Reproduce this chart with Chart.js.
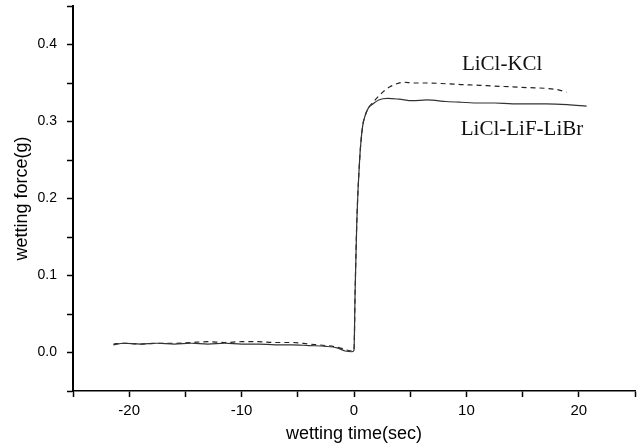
<!DOCTYPE html>
<html lang="en">
  <head>
    <meta charset="UTF-8" />
    <title>Wetting force vs wetting time</title>
    <script src="https://cdn.jsdelivr.net/npm/chart.js@4.4.1/dist/chart.umd.min.js"></script>
    <style>
      html, body { margin: 0; padding: 0; background: #fff; }
      #wrap { width: 637px; height: 448px; }
    </style>
  </head>
  <body>
    <div id="wrap"><canvas id="wetChart" width="637" height="448"></canvas></div>
    <script>
      // ---- data ----
      const X_TICKS = [-25, -20, -15, -10, -5, 0, 5, 10, 15, 20, 25];
      const X_LABELS = [-20, -10, 0, 10, 20];
      const Y_TICKS = [-0.05, 0, 0.05, 0.1, 0.15, 0.2, 0.25, 0.3, 0.35, 0.4, 0.45];
      const Y_LABELS = [0, 0.1, 0.2, 0.3, 0.4];

      // LiCl-LiF-LiBr (solid)
      const SOLID_X = [-21.4, -20.5, -19, -17.5, -16, -14.5, -13, -11.5, -10, -8.5, -7, -5.5, -4, -2.5, -1.5, -0.8, -0.2, 0,
                       0.1, 0.25, 0.5, 0.75, 1.0, 1.3, 1.7, 2.2, 3.0, 4.0, 5.2, 6.5, 8.2, 9.5, 11.2, 12.5, 14.1, 15.5, 17.1, 19, 20.7];
      const SOLID_Y = [0.010, 0.012, 0.011, 0.012, 0.011, 0.012, 0.011, 0.012, 0.011, 0.011, 0.010, 0.010, 0.009, 0.008, 0.006, 0.002, 0.001, 0.003,
                       0.08, 0.17, 0.25, 0.292, 0.308, 0.318, 0.323, 0.328, 0.330, 0.329, 0.327, 0.328, 0.326, 0.325, 0.324, 0.324, 0.323, 0.323, 0.323, 0.322, 0.320];

      // LiCl-KCl (dashed)
      const DASH_X = [-21.4, -20.5, -19, -17.5, -16, -14.5, -13, -11.5, -10, -8.5, -7, -5.5, -4, -2.5, -1.5, -0.8, -0.2, 0,
                      0.1, 0.25, 0.5, 0.75, 1.0, 1.3, 1.7, 2.2, 2.7, 3.2, 3.8, 4.5, 5.2, 6.5, 8.2, 9.5, 11.2, 12.5, 14.1, 15.5, 17.1, 18.2, 18.9];
      const DASH_Y = [0.011, 0.012, 0.011, 0.012, 0.012, 0.013, 0.014, 0.013, 0.014, 0.014, 0.013, 0.013, 0.011, 0.009, 0.007, 0.004, 0.002, 0.003,
                      0.08, 0.17, 0.25, 0.292, 0.308, 0.318, 0.325, 0.333, 0.340, 0.345, 0.349, 0.351, 0.350, 0.350, 0.349, 0.348, 0.347, 0.346, 0.345, 0.344, 0.343, 0.341, 0.338];

      const NOTES = [
        { text: "LiCl-KCl", x: 9.6, y: 0.374 },
        { text: "LiCl-LiF-LiBr", x: 9.5, y: 0.290 },
      ];

      const pts = (xs, ys) => xs.map((x, i) => ({ x: x, y: ys[i] }));
      const near = (list, v) => list.some((t) => Math.abs(t - v) < 1e-6);

      // text labels next to the curves
      const notePlugin = {
        id: "notes",
        afterDatasetsDraw(chart) {
          const { ctx, scales } = chart;
          ctx.save();
          ctx.fillStyle = "#111";
          ctx.font = '21px "Liberation Serif"';
          ctx.textBaseline = "middle";
          NOTES.forEach((n) => {
            ctx.fillText(n.text, scales.x.getPixelForValue(n.x), scales.y.getPixelForValue(n.y));
          });
          ctx.restore();
        },
      };

      new Chart(document.getElementById("wetChart"), {
        type: "line",
        data: {
          datasets: [
            {
              label: "LiCl-LiF-LiBr",
              data: pts(SOLID_X, SOLID_Y),
              borderColor: "#333",
              borderWidth: 1.2,
              pointRadius: 0,
              cubicInterpolationMode: "monotone",
            },
            {
              label: "LiCl-KCl",
              data: pts(DASH_X, DASH_Y),
              borderColor: "#222",
              borderWidth: 1.2,
              borderDash: [5, 4],
              pointRadius: 0,
              cubicInterpolationMode: "monotone",
            },
          ],
        },
        plugins: [notePlugin],
        options: {
          responsive: false,
          animation: false,
          layout: { padding: { top: 6, right: 2, left: 0, bottom: 0 } },
          plugins: { legend: { display: false }, tooltip: { enabled: false } },
          scales: {
            x: {
              type: "linear",
              min: -25,
              max: 25,
              afterBuildTicks: (s) => { s.ticks = X_TICKS.map((v) => ({ value: v })); },
              afterFit: (s) => { s.height = 57; s.paddingLeft = 0; s.paddingRight = 0; },
              border: { color: "#000", width: 1.5 },
              grid: { drawOnChartArea: false, tickLength: 6, color: "#000", tickWidth: 1.5 },
              ticks: {
                autoSkip: false,
                maxRotation: 0,
                padding: 5,
                color: "#000",
                font: { family: "Liberation Sans", size: 15 },
                callback: (v) => (near(X_LABELS, v) ? String(v) : ""),
              },
              title: {
                display: true,
                text: "wetting time(sec)",
                color: "#000",
                font: { family: "Liberation Sans", size: 18 },
                padding: { top: 0, bottom: 3 },
              },
            },
            y: {
              type: "linear",
              min: -0.05,
              max: 0.45,
              afterBuildTicks: (s) => { s.ticks = Y_TICKS.map((v) => ({ value: v })); },
              afterFit: (s) => { s.width = 73; s.paddingTop = 0; s.paddingBottom = 0; },
              border: { color: "#000", width: 2 },
              grid: { drawOnChartArea: false, tickLength: 6, color: "#000", tickWidth: 1.5 },
              ticks: {
                autoSkip: false,
                padding: 10,
                color: "#000",
                font: { family: "Liberation Sans", size: 14 },
                callback: (v) => (near(Y_LABELS, v) ? v.toFixed(1) : ""),
              },
              title: {
                display: true,
                text: "wetting force(g)",
                color: "#000",
                font: { family: "Liberation Sans", size: 18 },
                padding: { top: 11, bottom: 0 },
              },
            },
          },
        },
      });
    </script>
  </body>
</html>
